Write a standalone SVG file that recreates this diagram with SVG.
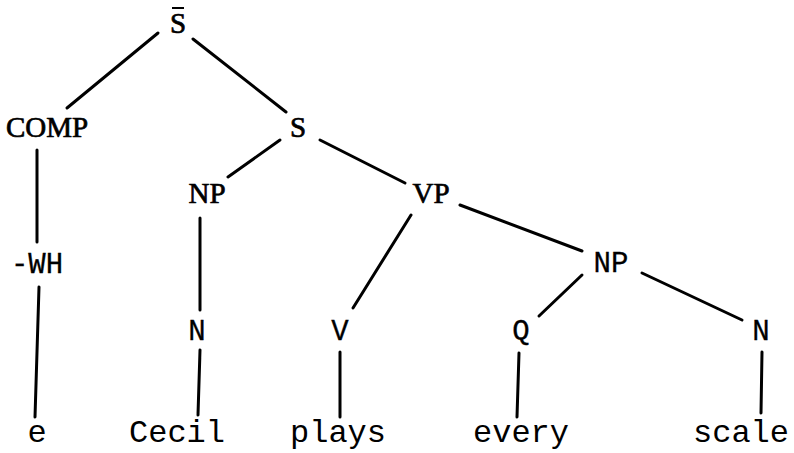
<svg xmlns="http://www.w3.org/2000/svg" width="794" height="453" viewBox="0 0 794 453">
<style>
.e{stroke:#000;stroke-width:3;stroke-linecap:round;fill:none}
.s{font-family:"Liberation Serif",serif;font-size:29px;fill:#000;stroke:#000;stroke-width:0.7;text-anchor:middle}
.m{font-family:"Liberation Mono",monospace;font-size:32px;fill:#000;text-anchor:middle}
.n{font-family:"Liberation Mono",monospace;font-size:29px;fill:#000;stroke:#000;stroke-width:0.3;text-anchor:middle}
</style>
<rect width="794" height="453" fill="#fff"/>
<g id="edges">
<line class="e" x1="158" y1="33" x2="67" y2="108"/>
<line class="e" x1="193" y1="39" x2="286" y2="112"/>
<line class="e" x1="37" y1="150" x2="37" y2="242"/>
<line class="e" x1="39" y1="287" x2="35" y2="417"/>
<line class="e" x1="280" y1="140" x2="228" y2="177"/>
<line class="e" x1="320" y1="140" x2="405" y2="183"/>
<line class="e" x1="200" y1="218" x2="200" y2="310"/>
<line class="e" x1="200" y1="350" x2="198" y2="415"/>
<line class="e" x1="411" y1="215" x2="353" y2="308"/>
<line class="e" x1="460" y1="205" x2="582" y2="251"/>
<line class="e" x1="340" y1="352" x2="340" y2="417"/>
<line class="e" x1="582" y1="275" x2="539" y2="316"/>
<line class="e" x1="642" y1="273" x2="742" y2="320"/>
<line class="e" x1="519" y1="353" x2="517" y2="417"/>
<line class="e" x1="762" y1="352" x2="761" y2="413"/>
</g>
<g id="Sbar"><text class="s" x="178" y="33">S</text><line x1="172" y1="8" x2="184" y2="8" stroke="#000" stroke-width="2"/></g>
<g id="COMP"><text class="s" x="47" y="137">COMP</text></g>
<g id="S"><text class="s" x="298" y="137">S</text></g>
<g id="NP1"><text class="s" x="207" y="203">NP</text></g>
<g id="VP"><text class="s" x="431" y="203">VP</text></g>
<g id="WH"><text class="n" x="37" y="273">-WH</text></g>
<g id="NP2"><text class="n" x="611" y="272">NP</text></g>
<g id="N1"><text class="n" x="197" y="340">N</text></g>
<g id="V"><text class="n" x="340" y="340">V</text></g>
<g id="Q"><text class="n" x="521" y="340">Q</text></g>
<g id="N2"><text class="n" x="761" y="340">N</text></g>
<g id="e"><text class="m" x="37" y="442">e</text></g>
<g id="Cecil"><text class="m" x="177" y="442">Cecil</text></g>
<g id="plays"><text class="m" x="338" y="442">plays</text></g>
<g id="every"><text class="m" x="521" y="442">every</text></g>
<g id="scale"><text class="m" x="741" y="442">scale</text></g>
</svg>
